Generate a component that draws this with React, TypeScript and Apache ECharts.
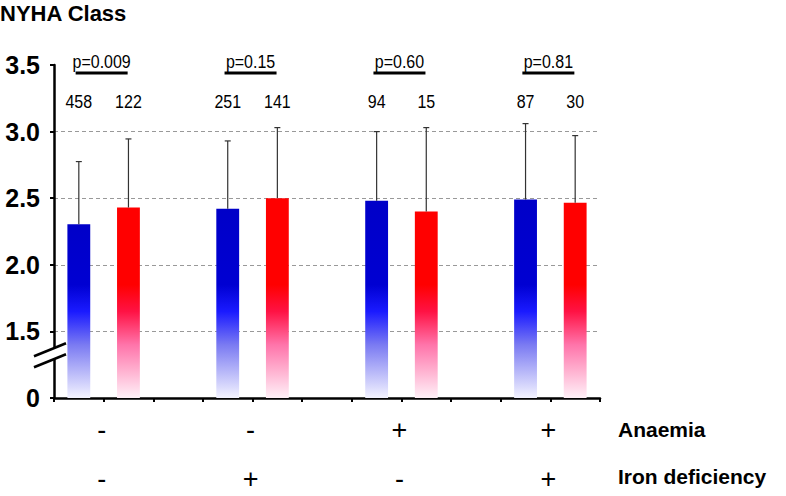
import React, { useEffect, useRef } from "react";
import * as echarts from "echarts";

// ---- data ----
const slotCategories = ["A1", "B1", "gap1", "A2", "B2", "gap2", "A3", "B3", "gap3", "A4", "B4"];
const blueMeans = [2.305, 2.42, 2.48, 2.49];
const redMeans = [2.43, 2.5, 2.4, 2.465];
const blueUpper = [2.775, 2.93, 3.0, 3.06];
const redUpper = [2.945, 3.03, 3.03, 2.97];
const blueN = [458, 251, 94, 87];
const redN = [122, 141, 15, 30];
const pLabels = ["p=0.009", "p=0.15", "p=0.60", "p=0.81"];
const anaemiaSigns = ["-", "-", "+", "+"];
const ironSigns = ["-", "+", "-", "+"];
const yTickValues = [0, 1.5, 2.0, 2.5, 3.0, 3.5];

// broken axis: real value 1.0 is drawn at the axis origin, labelled "0"
const AXIS_BASE = 1.0;
const t = (v: number) => v - AXIS_BASE;

const FONT = '"Liberation Sans", Arial, sans-serif';
const GRID_LEFT = 54;
const COUNT_LEVEL = 2.224; // transformed level of the n labels
const P_TEXT_LEVEL = 2.52;
const P_LINE_LEVEL = 2.44;

function barGradient(v: number, blue: boolean) {
  const off = (level: number) => Math.min(1, Math.max(0, (v - level) / v));
  const stops = blue
    ? [
        { offset: 0, color: "#0000c8" },
        { offset: off(0.85), color: "#0000d2" },
        { offset: off(0.65), color: "#1a1aff" },
        { offset: off(0.4), color: "#7a7af2" },
        { offset: 1, color: "#f3f3ff" },
      ]
    : [
        { offset: 0, color: "#ff0000" },
        { offset: off(0.85), color: "#ff0000" },
        { offset: off(0.65), color: "#ff1244" },
        { offset: off(0.4), color: "#ff74aa" },
        { offset: 1, color: "#fff1f8" },
      ];
  return new echarts.graphic.LinearGradient(0, 0, 0, 1, stops);
}

export default function App() {
  const ref = useRef<HTMLDivElement>(null);
  useEffect(() => {
    if (!ref.current) return;
    const chart = echarts.init(ref.current, undefined, { renderer: "svg" });

    const barData: any[] = slotCategories.map(() => "-");
    const errData: number[][] = [];
    const countData: any[] = [];
    blueMeans.forEach((m, g) => {
      const bi = 3 * g, ri = 3 * g + 1;
      barData[bi] = { value: t(m), itemStyle: { color: barGradient(t(m), true) } };
      barData[ri] = { value: t(redMeans[g]), itemStyle: { color: barGradient(t(redMeans[g]), false) } };
      errData.push([bi, t(m), t(blueUpper[g])]);
      errData.push([ri, t(redMeans[g]), t(redUpper[g])]);
      countData.push([bi, COUNT_LEVEL, blueN[g]]);
      countData.push([ri, COUNT_LEVEL, redN[g]]);
    });
    const groupData = pLabels.map((_, g) => [3 * g, 0, g]);

    chart.setOption({
      animation: false,
      backgroundColor: "#fff",
      title: {
        text: "NYHA Class",
        left: 0,
        top: 2,
        padding: 0,
        textStyle: { fontFamily: FONT, fontSize: 22, fontWeight: "bold", color: "#000" },
      },
      grid: { left: GRID_LEFT, right: 186, top: 65, bottom: 98 },
      xAxis: {
        type: "category",
        data: slotCategories,
        boundaryGap: true,
        axisLine: { lineStyle: { color: "#000", width: 2.5 } },
        axisTick: { show: true, length: 4, interval: 0, lineStyle: { color: "#000", width: 2 } },
        axisLabel: { show: false },
        splitLine: { show: false },
      },
      yAxis: {
        type: "value",
        min: 0,
        max: 2.5,
        interval: 0.5,
        axisLine: { show: true, lineStyle: { color: "#000", width: 2.5 } },
        axisTick: { show: true, length: 4, lineStyle: { color: "#000", width: 2 } },
        axisLabel: {
          margin: 14,
          fontFamily: FONT,
          fontSize: 25,
          fontWeight: "bold",
          color: "#000",
          formatter: (v: number) => {
            const i = Math.round(v / 0.5);
            const real = yTickValues[i];
            return real === 0 ? "0" : real.toFixed(1);
          },
        },
        splitLine: {
          show: true,
          showMinLine: false,
          showMaxLine: false,
          lineStyle: { color: "#999", type: [4, 3], width: 1 },
        },
      },
      series: [
        {
          type: "bar",
          data: barData,
          barWidth: "46%",
          z: 2,
        },
        {
          type: "custom",
          data: errData,
          z: 3,
          renderItem: (params: any, api: any) => {
            const x = api.value(0);
            const p0 = api.coord([x, api.value(1)]);
            const p1 = api.coord([x, api.value(2)]);
            const st = { stroke: "#333", lineWidth: 1.2 };
            return {
              type: "group",
              children: [
                { type: "line", shape: { x1: p0[0], y1: p0[1], x2: p1[0], y2: p1[1] }, style: st },
                { type: "line", shape: { x1: p1[0] - 3, y1: p1[1], x2: p1[0] + 3, y2: p1[1] }, style: st },
              ],
            };
          },
        },
        {
          type: "custom",
          data: countData,
          z: 3,
          renderItem: (params: any, api: any) => {
            const p = api.coord([api.value(0), api.value(1)]);
            return {
              type: "text",
              x: p[0],
              y: p[1],
              scaleY: 1.12,
              style: {
                text: String(api.value(2)),
                fontFamily: FONT,
                fontSize: 16,
                fill: "#000",
                align: "center",
                verticalAlign: "middle",
              },
            };
          },
        },
        {
          type: "custom",
          data: groupData,
          z: 3,
          renderItem: (params: any, api: any) => {
            const g = params.dataIndex;
            const a = api.coord([3 * g, 0]);
            const b = api.coord([3 * g + 1, 0]);
            const cx = (a[0] + b[0]) / 2 - 2;
            const axisY = a[1];
            const pY = api.coord([3 * g, P_TEXT_LEVEL])[1];
            const lY = api.coord([3 * g, P_LINE_LEVEL])[1];
            const txt = (text: string, y: number, size: number, sy: number) => ({
              type: "text",
              x: cx,
              y,
              scaleY: sy,
              style: { text, fontFamily: FONT, fontSize: size, fill: "#000", align: "center", verticalAlign: "middle" },
            });
            return {
              type: "group",
              children: [
                txt(pLabels[g], pY, 16, 1.1),
                { type: "line", shape: { x1: cx - 26, y1: lY, x2: cx + 26, y2: lY }, style: { stroke: "#000", lineWidth: 3 } },
                txt(anaemiaSigns[g], axisY + 32, 27, 1),
                txt(ironSigns[g], axisY + 81, 27, 1),
              ],
            };
          },
        },
      ],
    });

    const cy = chart.convertToPixel({ yAxisIndex: 0 }, 0.333) as number;
    const ax = GRID_LEFT;
    chart.setOption({
      graphic: [
        { type: "rect", z: 10, shape: { x: ax - 3, y: cy - 5.5, width: 6, height: 11 }, style: { fill: "#fff" } },
        { type: "line", z: 11, shape: { x1: ax - 20, y1: cy + 2.6, x2: ax + 12, y2: cy - 10.4 }, style: { stroke: "#000", lineWidth: 2.5 } },
        { type: "line", z: 11, shape: { x1: ax - 20, y1: cy + 13.6, x2: ax + 12, y2: cy + 0.6 }, style: { stroke: "#000", lineWidth: 2.5 } },
        { type: "text", z: 11, left: 618, top: 419, style: { text: "Anaemia", fontFamily: FONT, fontSize: 21, fontWeight: "bold", fill: "#000" } },
        { type: "text", z: 11, left: 618, top: 466, style: { text: "Iron deficiency", fontFamily: FONT, fontSize: 21, fontWeight: "bold", fill: "#000" } },
      ],
    });

    return () => chart.dispose();
  }, []);
  return <div ref={ref} style={{ position: "fixed", left: 0, top: 0, width: 786, height: 496 }} />;
}
